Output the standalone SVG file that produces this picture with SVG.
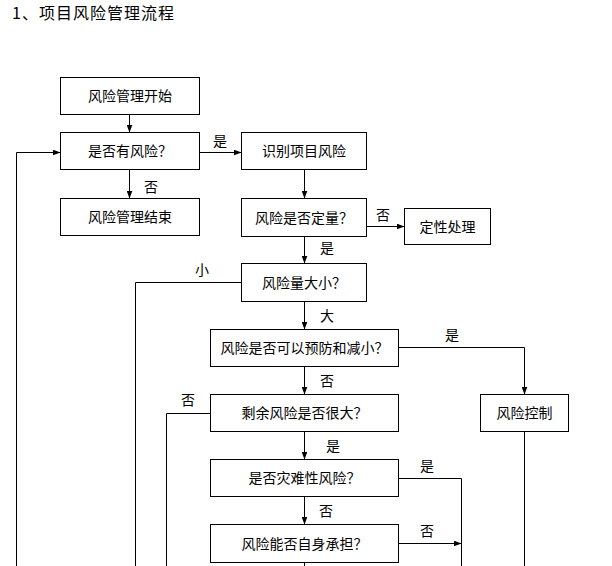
<svg xmlns="http://www.w3.org/2000/svg" width="612" height="566" viewBox="0 0 612 566">
<style>
.box{fill:#fff;stroke:#000;stroke-width:1}
.t{font-family:"Noto Sans CJK SC","Liberation Sans",sans-serif;font-size:14px;fill:#000;text-anchor:middle}
.c{fill:none;stroke:#000;stroke-width:1}
.titlec{font-family:"Noto Sans CJK SC",sans-serif;font-size:16px;letter-spacing:1px;fill:#000}
</style>
<defs>
<marker id="ah" markerUnits="userSpaceOnUse" markerWidth="8" markerHeight="6" refX="8" refY="3" orient="auto">
<path d="M0,0 L8,3 L0,6 z" fill="#000"/>
</marker>
</defs>
<text x="12" y="19" class="titlec">1、项目风险管理流程</text>

<g id="connectors">
<path class="c" d="M129.5,114.5 V132.5" marker-end="url(#ah)"/>
<path class="c" d="M129.5,169.5 V198.5" marker-end="url(#ah)"/>
<path class="c" d="M199.5,152.5 H241.5" marker-end="url(#ah)"/>
<path class="c" d="M304.5,169.5 V198.5" marker-end="url(#ah)"/>
<path class="c" d="M366.5,226.5 H404.5" marker-end="url(#ah)"/>
<path class="c" d="M304.5,236.5 V263.5" marker-end="url(#ah)"/>
<path class="c" d="M304.5,301.5 V329.5" marker-end="url(#ah)"/>
<path class="c" d="M398.5,347.5 H524.5 V394.5" marker-end="url(#ah)"/>
<path class="c" d="M304.5,366.5 V394.5" marker-end="url(#ah)"/>
<path class="c" d="M304.5,431.5 V459.5" marker-end="url(#ah)"/>
<path class="c" d="M304.5,496.5 V524.5" marker-end="url(#ah)"/>
<path class="c" d="M398.5,478.5 H461.5 V566"/>
<path class="c" d="M398.5,543.5 H461.5" marker-end="url(#ah)"/>
<path class="c" d="M241.5,282.5 H135.5 V566"/>
<path class="c" d="M210.5,413.5 H166.5 V566"/>
<path class="c" d="M16.5,566 V152.5 H60.5" marker-end="url(#ah)"/>
<path class="c" d="M524.5,431.5 V566"/>
<path class="c" d="M304.5,562.5 V566"/>
<text class="t" x="220" y="146">是</text>
<text class="t" x="151" y="192">否</text>
<text class="t" x="383" y="220">否</text>
<text class="t" x="327" y="253">是</text>
<text class="t" x="202" y="275">小</text>
<text class="t" x="327" y="321">大</text>
<text class="t" x="327" y="386">否</text>
<text class="t" x="188" y="405">否</text>
<text class="t" x="452" y="340">是</text>
<text class="t" x="333" y="451">是</text>
<text class="t" x="427" y="471">是</text>
<text class="t" x="326" y="516">否</text>
<text class="t" x="427" y="536">否</text>
</g>

<g id="start"><rect class="box" x="60.5" y="77.5" width="139" height="37"/><text class="t" x="130" y="101">风险管理开始</text></g>
<g id="hasRisk"><rect class="box" x="60.5" y="132.5" width="139" height="37"/><text class="t" x="130" y="156">是否有风险？</text></g>
<g id="end"><rect class="box" x="60.5" y="198.5" width="139" height="37"/><text class="t" x="130" y="222">风险管理结束</text></g>
<g id="identify"><rect class="box" x="241.5" y="132.5" width="125" height="37"/><text class="t" x="304" y="156">识别项目风险</text></g>
<g id="quant"><rect class="box" x="241.5" y="198.5" width="125" height="38"/><text class="t" x="304" y="222.5">风险是否定量？</text></g>
<g id="qualitative"><rect class="box" x="404.5" y="208.5" width="86" height="36"/><text class="t" x="447.5" y="231.5">定性处理</text></g>
<g id="size"><rect class="box" x="241.5" y="263.5" width="125" height="38"/><text class="t" x="304" y="287.5">风险量大小？</text></g>
<g id="prevent"><rect class="box" x="210.5" y="329.5" width="188" height="37"/><text class="t" x="304.5" y="353">风险是否可以预防和减小？</text></g>
<g id="residual"><rect class="box" x="210.5" y="394.5" width="188" height="37"/><text class="t" x="304.5" y="418">剩余风险是否很大？</text></g>
<g id="control"><rect class="box" x="480.5" y="394.5" width="88" height="37"/><text class="t" x="524.5" y="418">风险控制</text></g>
<g id="catastrophic"><rect class="box" x="210.5" y="459.5" width="188" height="37"/><text class="t" x="304.5" y="483">是否灾难性风险？</text></g>
<g id="selfbear"><rect class="box" x="210.5" y="524.5" width="188" height="38"/><text class="t" x="304.5" y="548.5">风险能否自身承担？</text></g>
</svg>
